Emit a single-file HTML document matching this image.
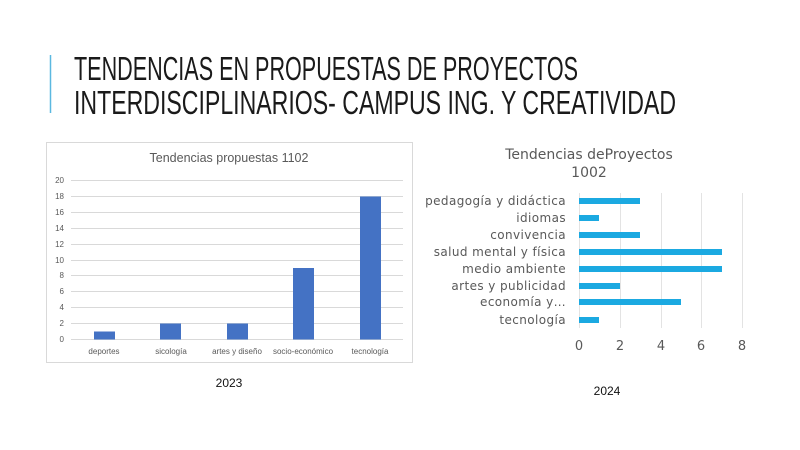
<!DOCTYPE html>
<html><head><meta charset="utf-8"><style>
html,body{margin:0;padding:0;background:#fff;}
svg{display:block;}
</style></head><body>
<svg width="800" height="450" viewBox="0 0 800 450" xmlns="http://www.w3.org/2000/svg">
<rect width="800" height="450" fill="#fff"/>
<line x1="50.5" y1="55" x2="50.5" y2="113" stroke="#5bb8e0" stroke-width="1.5"/>
<g font-family="'Liberation Sans Narrow','Liberation Sans',sans-serif" font-size="33" fill="#1a1a1a">
<text x="74" y="80" textLength="504" lengthAdjust="spacingAndGlyphs">TENDENCIAS EN PROPUESTAS DE PROYECTOS</text>
<text x="74" y="114" textLength="602" lengthAdjust="spacingAndGlyphs">INTERDISCIPLINARIOS- CAMPUS ING. Y CREATIVIDAD</text>
</g>
<!-- left chart -->
<rect x="46.5" y="142.5" width="366" height="220" fill="#fff" stroke="#d9d9d9"/>
<text x="229" y="162" text-anchor="middle" font-family="'Liberation Sans',sans-serif" font-size="12.5" fill="#595959">Tendencias propuestas 1102</text>
<g stroke="#d9d9d9" stroke-width="1">
<line x1="71" x2="403" y1="180.5" y2="180.5"/><line x1="71" x2="403" y1="196.5" y2="196.5"/>
<line x1="71" x2="403" y1="212.5" y2="212.5"/><line x1="71" x2="403" y1="228.5" y2="228.5"/>
<line x1="71" x2="403" y1="244.5" y2="244.5"/><line x1="71" x2="403" y1="260.5" y2="260.5"/>
<line x1="71" x2="403" y1="275.5" y2="275.5"/><line x1="71" x2="403" y1="291.5" y2="291.5"/>
<line x1="71" x2="403" y1="307.5" y2="307.5"/><line x1="71" x2="403" y1="323.5" y2="323.5"/>
<line x1="71" x2="403" y1="339.5" y2="339.5"/>
</g>
<g font-family="'Liberation Sans',sans-serif" font-size="8" fill="#595959" text-anchor="end">
<text x="64" y="183">20</text><text x="64" y="199">18</text><text x="64" y="215">16</text>
<text x="64" y="231">14</text><text x="64" y="247">12</text><text x="64" y="263">10</text>
<text x="64" y="278">8</text><text x="64" y="294">6</text><text x="64" y="310">4</text>
<text x="64" y="326">2</text><text x="64" y="342">0</text>
</g>
<g fill="#4472c4">
<rect x="94" y="331.5" width="21" height="8"/>
<rect x="160" y="323.5" width="21" height="16"/>
<rect x="227" y="323.5" width="21" height="16"/>
<rect x="293" y="268" width="21" height="71.5"/>
<rect x="360" y="196.5" width="21" height="143"/>
</g>
<g font-family="'Liberation Sans',sans-serif" font-size="8" fill="#595959" text-anchor="middle">
<text x="104" y="354">deportes</text><text x="171" y="354">sicología</text>
<text x="237" y="354">artes y diseño</text><text x="303" y="354">socio-económico</text>
<text x="370" y="354">tecnología</text>
</g>
<text x="229" y="387" text-anchor="middle" font-family="'Liberation Sans',sans-serif" font-size="12" fill="#111">2023</text>
<!-- right chart -->
<g font-family="'DejaVu Sans','Liberation Sans',sans-serif" font-size="14" fill="#595959" text-anchor="middle">
<text x="589" y="159">Tendencias deProyectos</text>
<text x="589" y="177">1002</text>
</g>
<g stroke="#e3e3e3"><line x1="579.5" x2="579.5" y1="193" y2="328"/><line x1="620.5" x2="620.5" y1="193" y2="328"/><line x1="661.5" x2="661.5" y1="193" y2="328"/><line x1="701.5" x2="701.5" y1="193" y2="328"/><line x1="742.5" x2="742.5" y1="193" y2="328"/></g>
<g fill="#1ba9e1">
<rect x="579" y="198" width="61" height="6"/>
<rect x="579" y="215" width="20" height="6"/>
<rect x="579" y="232" width="61" height="6"/>
<rect x="579" y="249" width="143" height="6"/>
<rect x="579" y="266" width="143" height="6"/>
<rect x="579" y="283" width="41" height="6"/>
<rect x="579" y="299" width="102" height="6"/>
<rect x="579" y="317" width="20" height="6"/>
</g>
<g font-family="'DejaVu Sans','Liberation Sans',sans-serif" font-size="12" fill="#595959" text-anchor="end" letter-spacing="0.4">
<text x="566" y="205">pedagogía y didáctica</text>
<text x="566" y="222">idiomas</text>
<text x="566" y="239">convivencia</text>
<text x="566" y="256">salud mental y física</text>
<text x="566" y="273">medio ambiente</text>
<text x="566" y="290">artes y publicidad</text>
<text x="566" y="306">economía y…</text>
<text x="566" y="324">tecnología</text>
</g>
<g font-family="'DejaVu Sans','Liberation Sans',sans-serif" font-size="13" fill="#595959" text-anchor="middle">
<text x="579" y="350">0</text><text x="620" y="350">2</text><text x="661" y="350">4</text><text x="701" y="350">6</text><text x="742" y="350">8</text>
</g>
<text x="607" y="395" text-anchor="middle" font-family="'Liberation Sans',sans-serif" font-size="12" fill="#111">2024</text>
</svg>
</body></html>
